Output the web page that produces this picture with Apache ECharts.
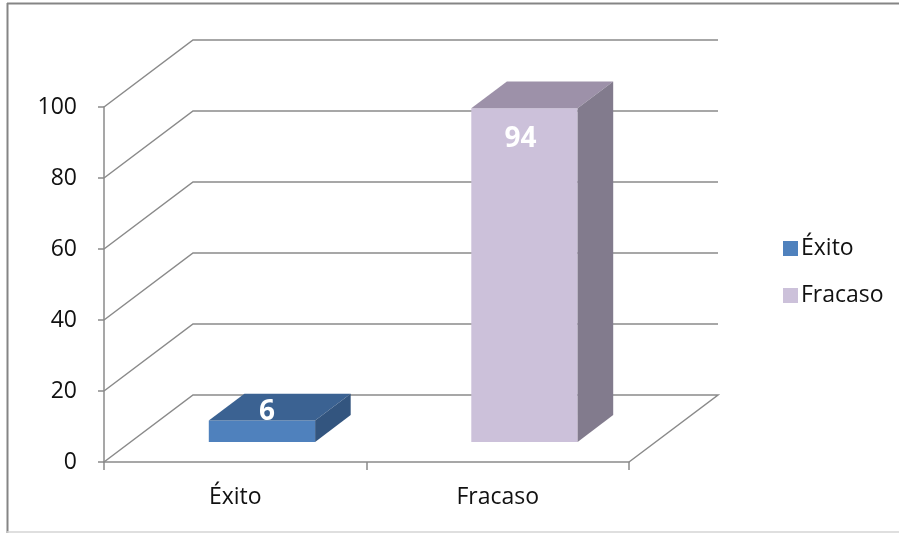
<!DOCTYPE html>
<html>
<head>
<meta charset="utf-8">
<script src="https://cdn.jsdelivr.net/npm/echarts@6/dist/echarts.min.js"></script>
<style>
html,body{margin:0;padding:0;background:#fff;}
#chart{width:899px;height:533px;}
</style>
</head>
<body>
<div id="chart"></div>
<script>
// ---- data ----
const categories = ['Éxito', 'Fracaso'];
const seriesNames = ['Éxito', 'Fracaso'];
const values = [6, 94];
const yTicks = [0, 20, 40, 60, 80, 100];

// ---- styles ----
const faceColors = [
  { front: '#4F81BD', top: '#3B6292', side: '#33557F' },
  { front: '#CCC1DA', top: '#9D91A9', side: '#827B8D' }
];
const DX = 89, DY = -67;          // depth of the 3D floor/walls
const F0 = 0.3, F1 = 0.7;          // bar depth range (fraction)
const gridColor = '#8a8a8a';
const FONT = 'Open Sans';

const chart = echarts.init(document.getElementById('chart'));

function wallRender(params, api) {
  const cs = params.coordSys;
  const v = api.value(1);
  const y = api.coord([0, v])[1];
  const left = cs.x, right = cs.x + cs.width;
  const pts = [[left, y], [left + DX, y + DY], [right + DX, y + DY]];
  if (v === 0) pts.push([right, y]);
  return {
    type: 'polyline',
    shape: { points: pts },
    style: { stroke: gridColor, lineWidth: 1.5, fill: null },
    silent: true
  };
}

function barRender(idx) {
  return function (params, api) {
    const cat = api.value(0);
    const v = api.value(1);
    const top = api.coord([cat, v]);
    const base = api.coord([cat, 0]);
    const bw = api.size([1, 0])[0];
    const hw = bw * 0.2025;
    const cx = top[0];
    const fx = DX * F0, fy = DY * F0, bx = DX * F1, by = DY * F1;
    const c = faceColors[idx];
    const xl = cx - hw, xr = cx + hw;
    const yt = top[1], yb = base[1];
    const frontH = yb - yt;
    const children = [
      { type: 'polygon', shape: { points: [[xl + fx, yt + fy], [xr + fx, yt + fy], [xr + fx, yb + fy], [xl + fx, yb + fy]] }, style: { fill: c.front } },
      { type: 'polygon', shape: { points: [[xl + fx, yt + fy], [xr + fx, yt + fy], [xr + bx, yt + by], [xl + bx, yt + by]] }, style: { fill: c.top } },
      { type: 'polygon', shape: { points: [[xr + fx, yt + fy], [xr + bx, yt + by], [xr + bx, yb + by], [xr + fx, yb + fy]] }, style: { fill: c.side } }
    ];
    let lx, ly;
    if (frontH > 60) { lx = cx + fx - 4; ly = yt + fy + 31; }
    else { lx = cx + fx + 5; ly = yt + fy - 9; }
    children.push({
      type: 'text',
      style: {
        text: String(v), x: lx, y: ly, fill: '#ffffff',
        font: 'bold 28px "' + FONT + '"', align: 'center', verticalAlign: 'middle'
      }
    });
    return { type: 'group', children: children };
  };
}

const series = [
  {
    type: 'custom',
    name: '_walls',
    renderItem: wallRender,
    data: yTicks.map(v => [0, v]),
    encode: { x: 0, y: 1 },
    z: 1,
    silent: true
  }
];
seriesNames.forEach((name, i) => {
  series.push({
    type: 'custom',
    name: name,
    renderItem: barRender(i),
    data: [[categories[i], values[i]]],
    encode: { x: 0, y: 1 },
    itemStyle: { color: faceColors[i].front },
    z: 3
  });
});

chart.setOption({
  animation: false,
  backgroundColor: '#ffffff',
  textStyle: { fontFamily: FONT },
  grid: { left: 104, right: 270, top: 107, bottom: 71 },
  xAxis: {
    type: 'category',
    data: categories,
    axisLine: { show: true, lineStyle: { color: gridColor, width: 1.5 } },
    axisTick: { show: true, length: 8, lineStyle: { color: gridColor, width: 1.5 } },
    axisLabel: { color: '#111111', fontSize: 23, fontFamily: FONT, margin: 24 },
    splitLine: { show: false }
  },
  yAxis: {
    type: 'value',
    min: 0, max: 100, interval: 20,
    axisLine: { show: true, lineStyle: { color: gridColor, width: 1.5 } },
    axisTick: { show: true, length: 6, lineStyle: { color: gridColor, width: 1.5 } },
    axisLabel: { color: '#111111', fontSize: 23, fontFamily: FONT, margin: 27 },
    splitLine: { show: false }
  },
  legend: {
    data: seriesNames,
    orient: 'vertical',
    left: 778,
    top: 232,
    icon: 'rect',
    itemWidth: 15,
    itemHeight: 15,
    itemGap: 24,
    textStyle: { color: '#111111', fontSize: 23, fontFamily: FONT, padding: [0, 0, 0, -2] }
  },
  graphic: [
    { type: 'line', shape: { x1: 7, y1: 3.5, x2: 899, y2: 3.5 }, style: { stroke: '#858585', lineWidth: 2 } },
    { type: 'line', shape: { x1: 7.5, y1: 3, x2: 7.5, y2: 533 }, style: { stroke: '#858585', lineWidth: 2 } },
    { type: 'line', shape: { x1: 7, y1: 532, x2: 899, y2: 532 }, style: { stroke: '#d4d4d4', lineWidth: 1.5 } }
  ],
  series: series
});
</script>
</body>
</html>
